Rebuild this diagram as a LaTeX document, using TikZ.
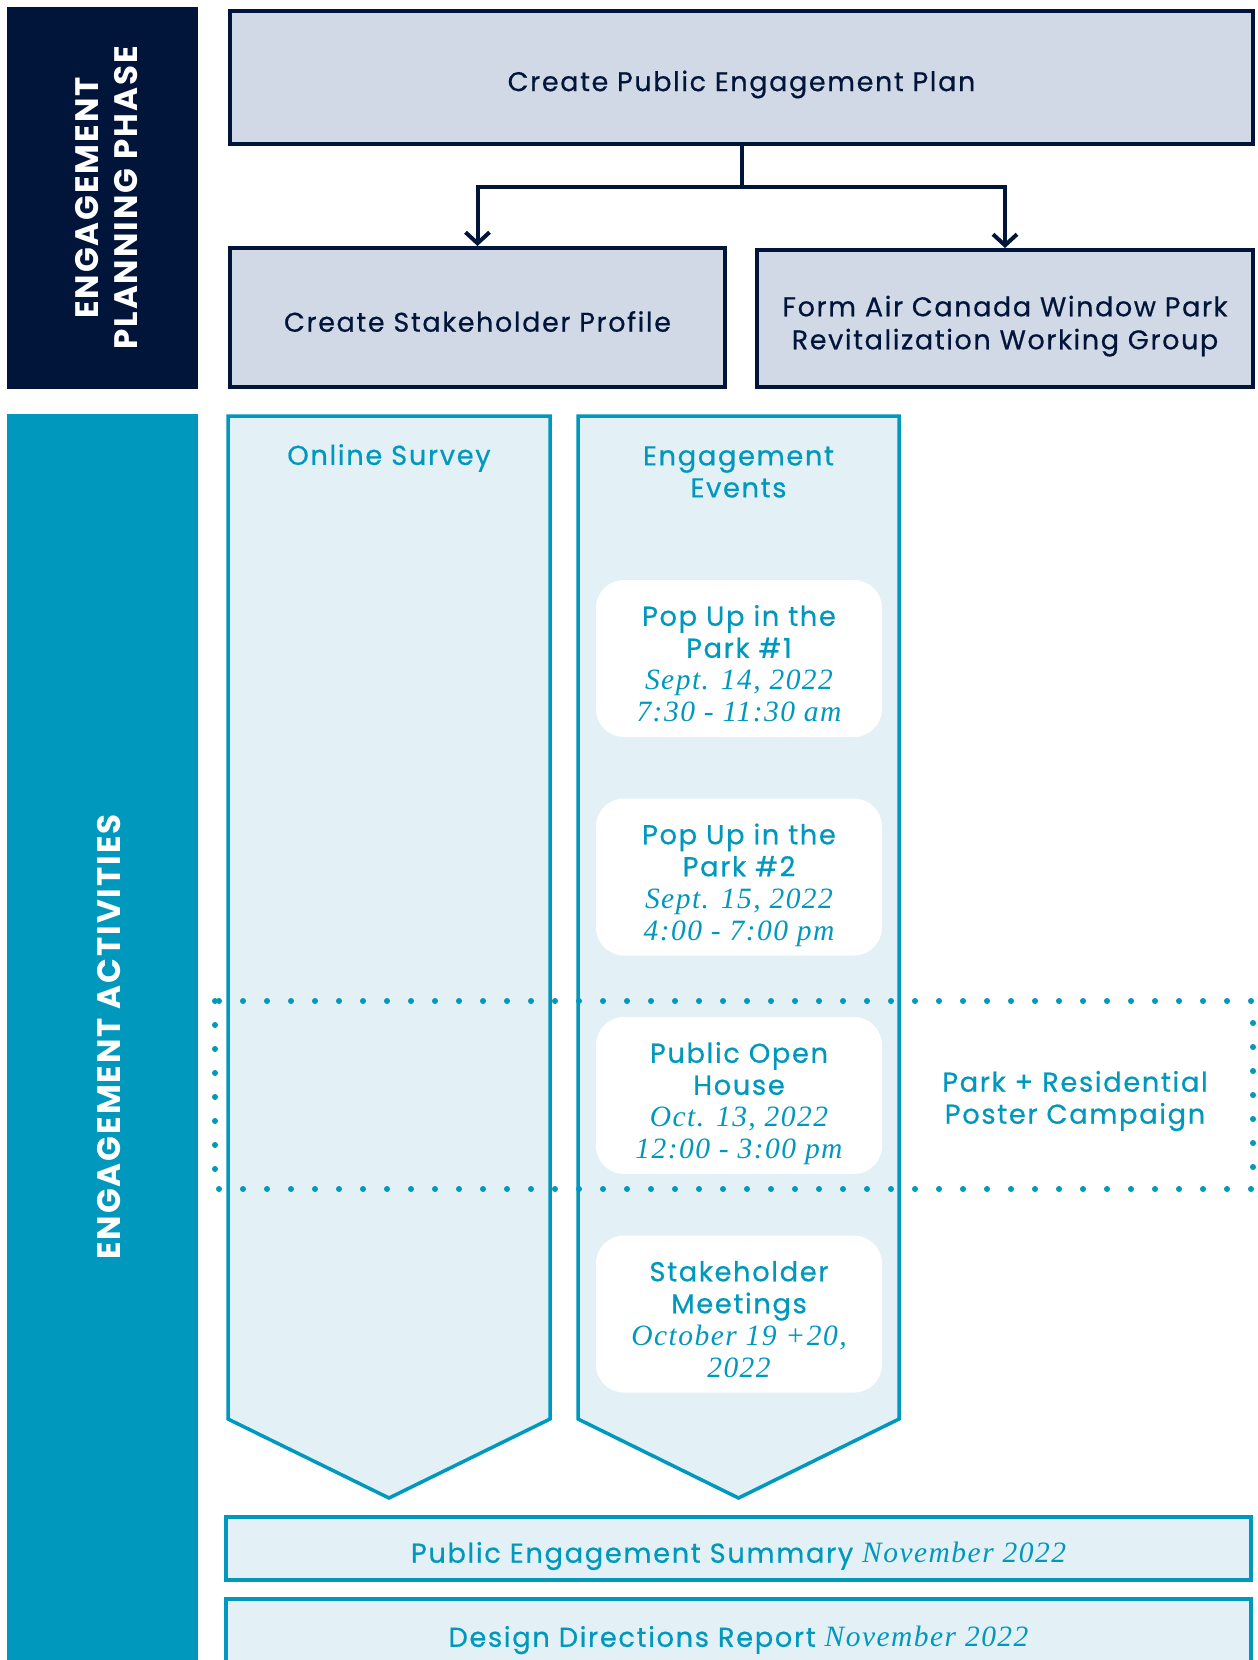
\documentclass[tikz,border=0pt]{standalone}
\usepackage{fontspec}
\usetikzlibrary{arrows.meta}
\newfontfamily\popfont{Poppins}[LetterSpace=6, FakeBold=0.5]
\newfontfamily\sidefont{Poppins}[LetterSpace=6]
\newfontfamily\datefont{Liberation Serif}[LetterSpace=5]
\definecolor{navy}{RGB}{0,21,57}
\definecolor{planfill}{RGB}{209,217,230}
\definecolor{actteal}{RGB}{0,152,188}
\definecolor{actfill}{RGB}{227,240,246}
\tikzset{
  sidebar/.style={rotate=90, text=white, align=center, inner sep=0pt, text depth=0pt,
    font=\fontsize{32.5}{39}\selectfont\sidefont\bfseries},
  planbox/.style={draw=navy, line width=4pt, fill=planfill, text=navy, align=center,
    text depth=0pt, font=\fontsize{27}{33}\selectfont\popfont},
  column/.style={draw=actteal, line width=3.5pt, fill=actfill, line join=miter},
  acttext/.style={text=actteal, align=center, font=\fontsize{27.3}{32}\selectfont\popfont},
  eventbox/.style={acttext, fill=white, rounded corners=28pt, text height=126.5pt, text depth=0pt,
    minimum width=286pt, minimum height=157pt},
  reportbox/.style={acttext, draw=actteal, line width=4pt, fill=actfill, text depth=0pt,
    minimum width=1025pt, minimum height=63pt},
  link/.style={draw=navy, line width=4pt, -{Straight Barb[length=11pt,width=24pt]}},
  dotline/.style={draw=actteal, line width=6pt, line cap=round, dash pattern=on 0pt off 24pt}
}
\newcommand{\dt}[1]{{\datefont\itshape\fontsize{29.5}{32}\selectfont #1}}
\begin{document}
\begin{tikzpicture}[x=1pt, y=-1pt]
  \useasboundingbox (0,0) rectangle (1258,1660);
  \fill[white] (0,0) rectangle (1258,1660);

  \node[sidebar, fill=navy, minimum width=382pt, minimum height=191pt, text height=70pt] (planside) at (102.5,198) {ENGAGEMENT\\PLANNING PHASE};
  \node[sidebar, fill=actteal, minimum width=1246pt, minimum height=191pt, text height=36pt] (actside) at (102.5,1037) {ENGAGEMENT ACTIVITIES};

  \node[planbox, minimum width=1023pt, minimum height=133pt, text height=28.2pt] (plan) at (741.5,77) {Create Public Engagement Plan};
  \node[planbox, minimum width=495pt, minimum height=139pt, text height=28.4pt] (profile) at (477.5,317.5) {Create Stakeholder Profile};
  \node[planbox, minimum width=496pt, minimum height=137pt, text height=61.5pt] (group) at (1005,318.5) {Form Air Canada Window Park\\Revitalization Working Group};
  \coordinate (split) at (741.5,187);
  \draw[link] (plan.south) -- (split) -| (profile.north);
  \draw[link] (plan.south) -- (split) -| (group.north);

  \draw[column] (228,416) -- (550,416) -- (550,1419) -- (389,1498) -- (228,1419) -- cycle;
  \draw[column] (578,416) -- (899,416) -- (899,1419) -- (738.5,1498) -- (578,1419) -- cycle;
  \node[acttext] (survey) at (389,458) {Online Survey};
  \node[acttext] (events) at (738.5,472) {Engagement\\Events};

  \draw[dotline] (215,1001) rectangle (1253,1189);
  \node[acttext] (poster) at (1075,1101) {Park + Residential\\Poster Campaign};

  \node[eventbox] (popup1) at (739,658.5) {Pop Up in the\\Park \#1\\\dt{Sept. 14, 2022}\\\dt{7:30 - 11:30 am}};
  \node[eventbox] (popup2) at (739,877) {Pop Up in the\\Park \#2\\\dt{Sept. 15, 2022}\\\dt{4:00 - 7:00 pm}};
  \node[eventbox] (openhouse) at (739,1095.5) {Public Open\\House\\\dt{Oct. 13, 2022}\\\dt{12:00 - 3:00 pm}};
  \node[eventbox] (meetings) at (739,1314) {Stakeholder\\Meetings\\\dt{October 19 +20,}\\\dt{2022}};

  \node[reportbox, text height=28.4pt] (summary) at (738.5,1548.5) {Public Engagement Summary \dt{November 2022}};
  \node[reportbox, text height=32.6pt] (report) at (738.5,1630.5) {Design Directions Report \dt{November 2022}};
\end{tikzpicture}
\end{document}
